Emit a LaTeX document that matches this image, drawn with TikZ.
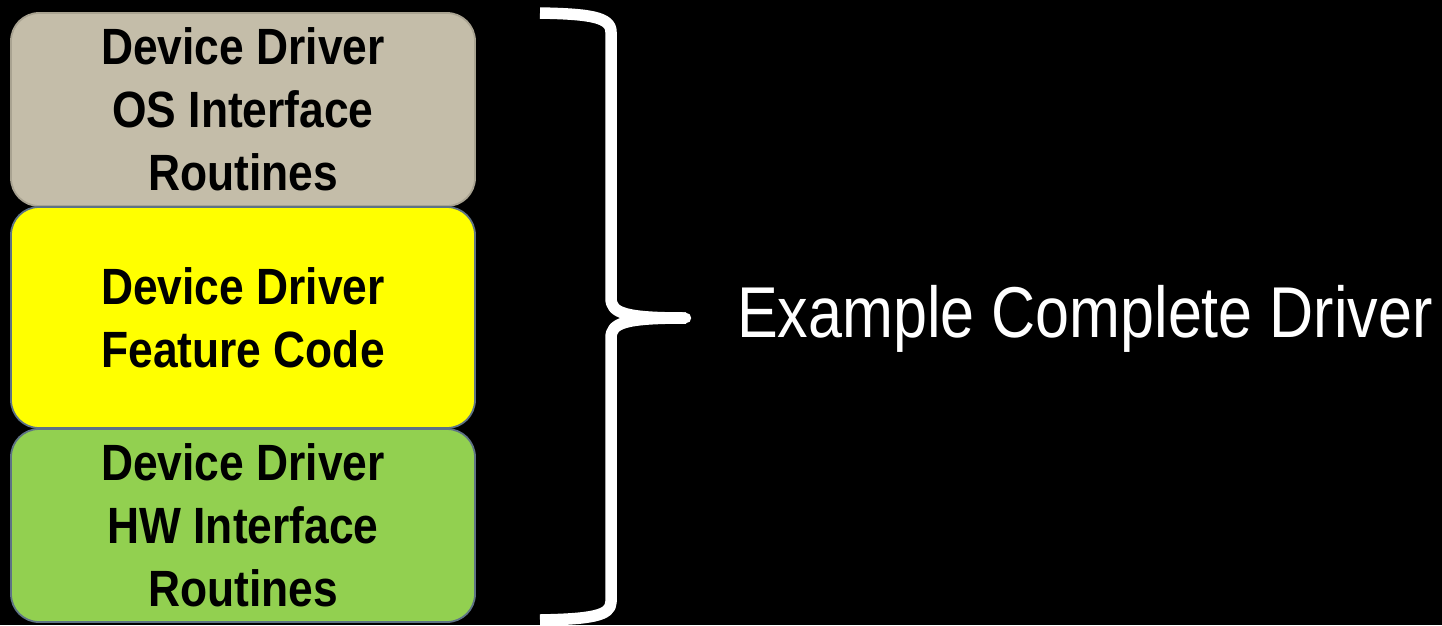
\documentclass[tikz,border=0pt]{standalone}
\usepackage{fontspec}
\newfontfamily\boxfont[FakeStretch=0.87]{Liberation Sans}
\newfontfamily\titlefont[FakeStretch=0.848]{Liberation Sans}
\definecolor{osfill}{HTML}{C4BDA9}
\definecolor{osedge}{HTML}{A9A391}
\definecolor{featfill}{HTML}{FFFF00}
\definecolor{hwfill}{HTML}{92D050}
\definecolor{layeredge}{HTML}{5E7385}
\tikzset{
  layer/.style={rectangle, rounded corners=28pt, line width=1.8pt,
    minimum width=464pt, inner sep=0pt, align=center, text=black,
    font=\boxfont\bfseries\fontsize{51}{63}\selectfont},
  bracestroke/.style={draw=white, line width=11.5pt, line cap=butt, line join=round},
}
\begin{document}
\begin{tikzpicture}[x=1pt,y=-1pt]
  % page and background
  \fill[black] (0,0) rectangle (1442,625);
  \useasboundingbox (0,0) rectangle (1442,625);

  % the three driver layers
  \node[layer, fill=osfill, draw=osedge, minimum height=193pt] (os) at (243,109.5)
    {Device Driver\\OS Interface\\Routines};
  \node[layer, fill=featfill, draw=layeredge, minimum height=221pt] (feat) at (243,317.5)
    {Device Driver\\Feature Code};
  \node[layer, fill=hwfill, draw=layeredge, minimum height=193pt] (hw) at (243,525.5)
    {Device Driver\\HW Interface\\Routines};

  % brace anchor points
  \coordinate (btop) at (540,13);
  \coordinate (bbot) at (540,620);
  \coordinate (btip) at (686,318);

  % curly brace
  \draw[bracestroke] (btop) .. controls (590,14) and (611,17) .. (611,32)
    -- (611,298) .. controls (611,313) and (624,318) .. (btip);
  \draw[bracestroke] (bbot) .. controls (590,619) and (611,616) .. (611,602)
    -- (611,338) .. controls (611,323) and (624,318) .. (btip);
  \fill[white] (btip) circle (5.2pt);

  % label
  \node[anchor=base west, inner sep=0pt, text=white,
        font=\titlefont\fontsize{72}{80}\selectfont] (label) at (737,337)
    {Example Complete Driver};
\end{tikzpicture}
\end{document}
